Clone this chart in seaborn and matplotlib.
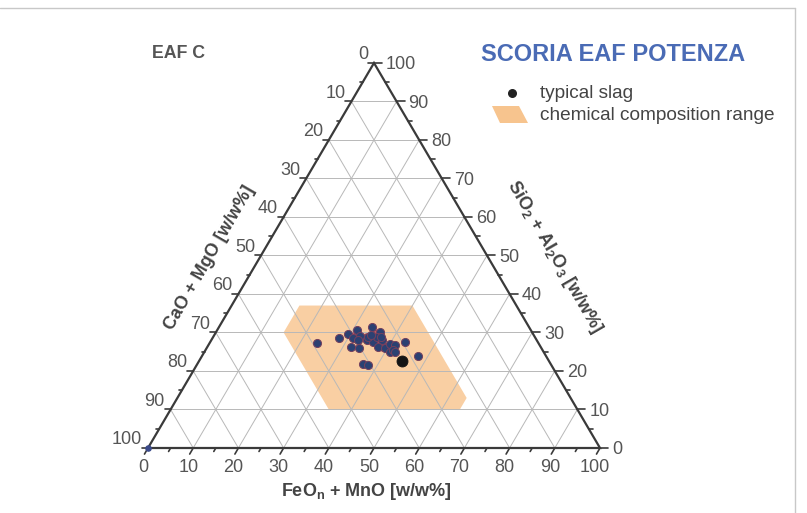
import numpy as np
import pandas as pd
import matplotlib
matplotlib.use("Agg")
import matplotlib.pyplot as plt
import matplotlib.transforms as mtrans
from matplotlib.lines import Line2D
import seaborn as sns

# ternary axes: FeOn+MnO (bottom), SiO2+Al2O3 (right), CaO+MgO (left)
tick_values = list(range(0, 101, 10))
minor_values = list(range(5, 100, 10))

# chemical composition range (vertices as FeO, SiO2)
range_feo = [40, 15, 15, 35, 64, 64]
range_sio2 = [37, 37, 30, 10, 10, 13]

# slag samples (FeO, SiO2) in w/w%
sample_feo = [23.7, 28.0, 29.4, 31.0, 30.9, 32.3, 31.8, 33.8, 33.7, 36.3, 34.5,
              36.0, 36.2, 37.7, 37.8, 39.5, 40.1, 41.2, 41.0, 41.5, 43.1, 47.8,
              36.7, 37.9, 32.5, 34.3, 42.2, 34.7, 37.0]
sample_sio2 = [27.2, 28.6, 29.5, 28.6, 30.6, 29.2, 26.3, 25.9, 31.5, 30.1, 28.1,
               27.6, 28.9, 28.1, 26.3, 25.9, 26.9, 26.8, 25.0, 25.5, 27.6, 24.0,
               21.8, 21.6, 28.0, 28.8, 24.9, 29.4, 28.9]
# reddish samples partly hidden under the cluster
red_feo = [31.5, 34.0, 35.5, 37.0, 38.5, 40.0]
red_sio2 = [29.0, 28.5, 29.5, 27.5, 26.5, 26.0]
# typical slag
typical_feo = [44.8]
typical_sio2 = [22.6]


def tern(feo, sio2):
    feo = np.asarray(feo, dtype=float)
    sio2 = np.asarray(sio2, dtype=float)
    return feo + sio2 / 2, sio2 * np.sqrt(3) / 2


sns.set_style("white")
plt.rcParams['font.family'] = ['Liberation Sans', 'DejaVu Sans']
plt.rcParams['mathtext.default'] = 'regular'

fig = plt.figure(figsize=(8.07, 5.13), dpi=100)
ax = fig.add_axes([0, 0, 1, 1])
PX_X, PX_Y = 4.52, 4.446  # pixels per data unit
ax.set_xlim(-148 / PX_X, (807 - 148) / PX_X)
ax.set_ylim(-65 / PX_Y, (513 - 65) / PX_Y)
ax.axis('off')

grid_c = '#b8b8b8'
axis_c = '#3a3a3a'
lab_c = '#555555'

# composition range
px, py = tern(range_feo, range_sio2)
ax.fill(px, py, color='#f9cfa3', zorder=1, lw=0)

# grid lines
for v in tick_values[1:-1]:
    # constant SiO2 (horizontal)
    x, y = tern([0, 100 - v], [v, v])
    ax.plot(x, y, color=grid_c, lw=0.7, zorder=2)
    # constant FeO
    x, y = tern([v, v], [0, 100 - v])
    ax.plot(x, y, color=grid_c, lw=0.7, zorder=2)
    # constant CaO
    x, y = tern([100 - v, 0], [0, 100 - v])
    ax.plot(x, y, color=grid_c, lw=0.7, zorder=2)

# triangle frame
x, y = tern([0, 100, 0, 0], [0, 0, 100, 0])
ax.plot(x, y, color=axis_c, lw=1.6, zorder=3, solid_joinstyle='miter')


def tick(xs, ys, ang, length):
    dx = np.cos(np.radians(ang)) * length / PX_X
    dy = np.sin(np.radians(ang)) * length / PX_Y
    for a, b in zip(xs, ys):
        ax.plot([a, a + dx], [b, b + dy], color=axis_c, lw=1.2, zorder=3)


def off(dx, dy):
    return mtrans.offset_copy(ax.transData, fig=fig, x=dx, y=dy, units='dots')


# bottom axis (FeO)
bx, by = tern(tick_values, [0] * len(tick_values))
tick(bx, by, 240, 7)
mx, my = tern(minor_values, [0] * len(minor_values))
tick(mx, my, 240, 4)
for v, a, b in zip(tick_values, bx, by):
    ax.text(a, b, str(v), transform=off(-5, -20), ha='center', va='center',
            fontsize=13, color=lab_c)

# right axis (SiO2)
rx, ry = tern([100 - v for v in tick_values], tick_values)
tick(rx, ry, 0, 8)
mx, my = tern([100 - v for v in minor_values], minor_values)
tick(mx, my, 0, 4)
for v, a, b in zip(tick_values, rx, ry):
    ax.text(a, b, str(v), transform=off(12, -2), ha='left', va='center',
            fontsize=13, color=lab_c)

# left axis (CaO)
lx, ly = tern([0] * len(tick_values), [100 - v for v in tick_values])
tick(lx, ly, 180, 6)
mx, my = tern([0] * len(minor_values), [100 - v for v in minor_values])
tick(mx, my, 180, 3)
for v, a, b in zip(tick_values, lx, ly):
    ax.text(a, b, str(v), transform=off(-6, 8), ha='right', va='center',
            fontsize=13, color=lab_c)

# samples
df = pd.DataFrame({'X': tern(sample_feo, sample_sio2)[0],
                   'Y': tern(sample_feo, sample_sio2)[1]})
df_red = pd.DataFrame({'X': tern(red_feo, red_sio2)[0],
                       'Y': tern(red_feo, red_sio2)[1]})
df_typ = pd.DataFrame({'X': tern(typical_feo, typical_sio2)[0],
                       'Y': tern(typical_feo, typical_sio2)[1]})
sns.scatterplot(data=df_red, x='X', y='Y', ax=ax, s=45, color='#b8414f',
                edgecolor='#b8414f', alpha=0.8, zorder=4, legend=False)
sns.scatterplot(data=df, x='X', y='Y', ax=ax, s=34, color='#2b4172',
                edgecolor='#74405e', linewidth=0.7, zorder=5, legend=False)
sns.scatterplot(data=df_typ, x='X', y='Y', ax=ax, s=62, color='#141414',
                edgecolor='#141414', zorder=6, legend=False)
# corner artefact
cx, cy = tern([0], [0])
ax.scatter(cx, cy, s=14, color='#3a4a8a', zorder=6)
ax.set_xlabel('')
ax.set_ylabel('')

# axis titles
fig.text(366 / 807, 1 - 492 / 513, r'FeO$_{n}$ + MnO [w/w%]', ha='center',
         va='center', fontsize=13, fontweight='bold', color='#444444')
fig.text(210 / 807, 1 - 258 / 513, 'CaO + MgO [w/w%]', ha='center',
         va='center', fontsize=13, fontweight='bold', color='#444444',
         rotation=60)
fig.text(554 / 807, 1 - 257 / 513, r'SiO$_{2}$ + Al$_{2}$O$_{3}$ [w/w%]',
         ha='center', va='center', fontsize=13, fontweight='bold',
         color='#444444', rotation=-60)

# headings
fig.text(152 / 807, 1 - 53 / 513, 'EAF C', ha='left', va='center',
         fontsize=12.8, fontweight='bold', color='#555555')
fig.text(481 / 807, 1 - 55 / 513, 'SCORIA EAF POTENZA', ha='left',
         va='center', fontsize=17, fontweight='bold', color='#4a6bb5')

# legend
ax.scatter([512 / 807], [1 - 93 / 513], s=30, color='#222222',
           transform=fig.transFigure, zorder=6)
para = np.array([[492, 106], [519, 106], [528, 123], [500, 123]], dtype=float)
ax.fill(para[:, 0] / 807, 1 - para[:, 1] / 513, color='#f7c48e',
        transform=fig.transFigure, zorder=6, lw=0)
fig.text(540 / 807, 1 - 93 / 513, 'typical slag', ha='left', va='center',
         fontsize=13.7, color='#444444')
fig.text(540 / 807, 1 - 116 / 513, 'chemical composition range', ha='left',
         va='center', fontsize=13.7, color='#444444')

# frame of the picture
fig.add_artist(Line2D([0, 795 / 807], [1 - 8 / 513] * 2, color='#c8c8c8',
                      lw=1, transform=fig.transFigure))
fig.add_artist(Line2D([795 / 807] * 2, [0, 1 - 8 / 513], color='#c8c8c8',
                      lw=1, transform=fig.transFigure))

fig.savefig('out.png', dpi=100)
